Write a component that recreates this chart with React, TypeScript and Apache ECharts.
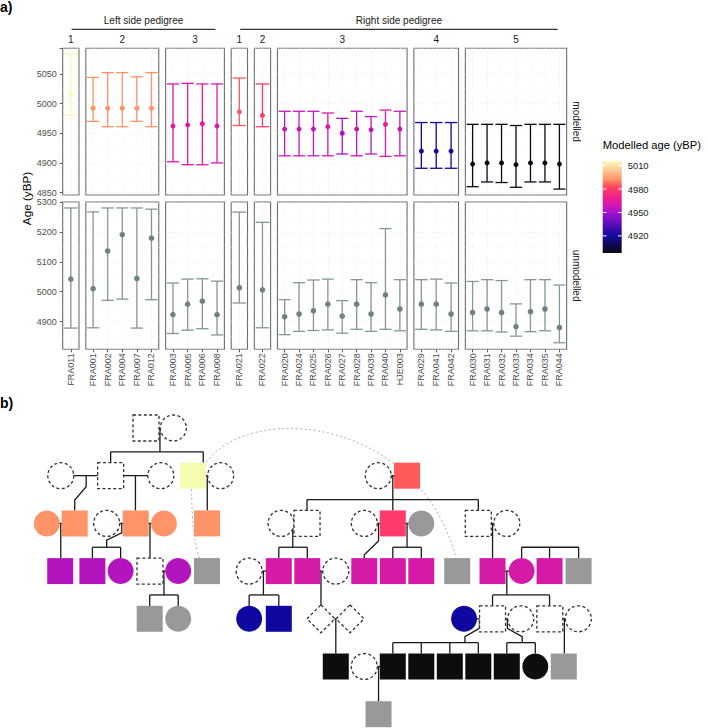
import React, { useEffect, useRef } from "react";
import * as echarts from "echarts";

// ---------------- data ----------------
const groupTitles = ["Left side pedigree", "Right side pedigree"];
const facetNames = ["1", "2", "3", "1", "2", "3", "4", "5"];
const facetGroup = [0, 0, 0, 1, 1, 1, 1, 1];
const facetSamples = [
  ["FRA011"],
  ["FRA001", "FRA002", "FRA004", "FRA007", "FRA012"],
  ["FRA003", "FRA005", "FRA006", "FRA008"],
  ["FRA021"],
  ["FRA022"],
  ["FRA020", "FRA024", "FRA025", "FRA026", "FRA027", "FRA028", "FRA039", "FRA040", "HJE003"],
  ["FRA029", "FRA041", "FRA042"],
  ["FRA030", "FRA031", "FRA032", "FRA033", "FRA034", "FRA035", "FRA044"],
];
const rowNames = ["modelled", "unmodelled"];

// values follow the sample order above
const modelledLow = [4980, 4970, 4961, 4961, 4970, 4961, 4902, 4897, 4897, 4900, 4963, 4961, 4912, 4912, 4912, 4912, 4915, 4912, 4915, 4911, 4912, 4891, 4891, 4891, 4860, 4868, 4867, 4859, 4868, 4868, 4856];
const modelledAge = [5015, 4992, 4992, 4992, 4992, 4992, 4962, 4964, 4966, 4962, 4986, 4980, 4957, 4957, 4957, 4961, 4950, 4957, 4956, 4965, 4957, 4920, 4920, 4920, 4898, 4900, 4900, 4897, 4900, 4900, 4898];
const modelledHigh = [5083, 5044, 5052, 5052, 5045, 5052, 5033, 5034, 5033, 5033, 5043, 5033, 4987, 4987, 4987, 4984, 4975, 4987, 4978, 4989, 4987, 4968, 4968, 4968, 4965, 4965, 4965, 4963, 4965, 4965, 4965];
const unmodelledLow = [4878, 4879, 4971, 4975, 4878, 4973, 4860, 4871, 4876, 4855, 4962, 4879, 4856, 4867, 4870, 4872, 4861, 4874, 4867, 4874, 4869, 4874, 4872, 4867, 4869, 4869, 4865, 4851, 4866, 4869, 4829];
const unmodelledAge = [5042, 5010, 5136, 5191, 5044, 5179, 4923, 4958, 4968, 4923, 5013, 5006, 4916, 4925, 4936, 4958, 4918, 4958, 4925, 4989, 4942, 4958, 4958, 4925, 4930, 4942, 4930, 4883, 4933, 4942, 4880];
const unmodelledHigh = [5280, 5267, 5280, 5280, 5280, 5276, 5029, 5042, 5043, 5035, 5266, 5232, 4973, 5030, 5039, 5042, 4970, 5040, 5030, 5211, 5040, 5040, 5042, 5029, 5034, 5040, 5037, 4959, 5040, 5040, 5022];

const legendTitle = "Modelled age (yBP)";
const legendTicks = [5010, 4980, 4950, 4920];

// pedigree: [column, generation, shape (0 square, 1 circle, 2 diamond), fill (-1 unsampled)]
const pedNodes = [
  [4.34, 1, 0, -1], [5.3, 1, 1, -1],
  [1.35, 2, 1, -1], [3.1, 2, 0, -1], [4.86, 2, 1, -1], [5.99, 2, 0, 0], [6.96, 2, 1, -1],
  [12.49, 2, 1, -1], [13.5, 2, 0, 2],
  [0.86, 3, 1, 1], [1.84, 3, 0, 1], [2.96, 3, 1, -1], [3.98, 3, 0, 1], [4.97, 3, 1, 1], [6.48, 3, 0, 1],
  [9.08, 3, 1, -1], [9.99, 3, 0, -1], [12, 3, 1, -1], [13, 3, 0, 3], [14, 3, 1, 8], [16, 3, 0, -1], [17, 3, 1, -1],
  [1.33, 4, 0, 4], [2.46, 4, 0, 4], [3.45, 4, 1, 4], [4.48, 4, 0, -1], [5.47, 4, 1, 4], [6.48, 4, 0, 8],
  [7.96, 4, 1, -1], [9, 4, 0, 5], [10, 4, 0, 5], [11, 4, 1, -1], [12, 4, 0, 5], [13, 4, 0, 5], [14, 4, 0, 5],
  [15.26, 4, 0, 8], [16.5, 4, 0, 5], [17.52, 4, 1, 5], [18.5, 4, 0, 5], [19.52, 4, 0, 8],
  [4.47, 5, 0, 8], [5.47, 5, 1, 8], [7.96, 5, 1, 6], [9, 5, 0, 6], [10.48, 5, 2, -1], [11.5, 5, 2, -1],
  [15.5, 5, 1, 6], [16.5, 5, 0, -1], [17.49, 5, 1, -1], [18.51, 5, 0, -1], [19.51, 5, 1, -1],
  [11, 6, 0, 7], [12, 6, 1, -1], [13, 6, 0, 7], [14, 6, 0, 7], [15, 6, 0, 7], [16, 6, 0, 7], [17, 6, 0, 7],
  [18, 6, 1, 7], [19, 6, 0, 8],
  [12.5, 7, 0, 8],
];

// pedigree connections, as polylines in [column, generation]
const pedLines = [
  [[4.34, 1], [5.3, 1]],
  [[1.35, 2], [3.1, 2]], [[3.1, 2], [4.86, 2]], [[5.99, 2], [6.96, 2]], [[12.49, 2], [13.5, 2]],
  [[0.86, 3], [1.84, 3]], [[2.96, 3], [3.98, 3]], [[3.98, 3], [4.97, 3]], [[9.08, 3], [9.99, 3]],
  [[12, 3], [13, 3]], [[13, 3], [14, 3]], [[16, 3], [17, 3]],
  [[4.48, 4], [5.47, 4]], [[7.96, 4], [9, 4]], [[10, 4], [11, 4]], [[16.5, 4], [17.52, 4]],
  [[10.48, 5], [11.5, 5]], [[15.5, 5], [16.5, 5]], [[16.5, 5], [17.49, 5]], [[18.51, 5], [19.51, 5]],
  [[12, 6], [13, 6]],
  [[4.83, 1], [4.83, 1.5]], [[3.1, 1.5], [6.35, 1.5]], [[3.1, 1.5], [3.1, 1.73]], [[6.35, 1.5], [6.35, 1.73]],
  [[2.24, 2], [2.24, 2.23], [1.84, 2.51], [1.84, 2.73]],
  [[3.97, 2], [3.97, 2.73]],
  [[6.49, 2], [6.49, 2.73]],
  [[1.35, 3], [1.35, 3.73]],
  [[3.49, 3], [3.49, 3.2], [2.96, 3.35], [2.96, 3.5]], [[2.46, 3.5], [3.45, 3.5]], [[2.46, 3.5], [2.46, 3.73]], [[3.45, 3.5], [3.45, 3.73]],
  [[4.48, 3], [4.48, 3.73]],
  [[4.97, 4], [4.97, 4.5]], [[4.47, 4.5], [5.47, 4.5]], [[4.47, 4.5], [4.47, 4.73]], [[5.47, 4.5], [5.47, 4.73]],
  [[13, 2], [13, 2.73]], [[9.99, 2.5], [16, 2.5]], [[9.99, 2.5], [9.99, 2.73]], [[16, 2.5], [16, 2.73]],
  [[9.49, 3], [9.49, 3.5]], [[9, 3.5], [10, 3.5]], [[9, 3.5], [9, 3.73]], [[10, 3.5], [10, 3.73]],
  [[12.5, 3], [12.5, 3.37], [12, 3.66], [12, 3.73]],
  [[13.5, 3], [13.5, 3.5]], [[13, 3.5], [14, 3.5]], [[13, 3.5], [13, 3.73]], [[14, 3.5], [14, 3.73]],
  [[16.5, 3], [16.5, 3.73]],
  [[17.52, 3.5], [19.52, 3.5]], [[17.52, 3.5], [17.52, 3.73]], [[18.5, 3.5], [18.5, 3.73]], [[19.52, 3.5], [19.52, 3.73]],
  [[8.46, 4], [8.46, 4.5]], [[7.96, 4.5], [9, 4.5]], [[7.96, 4.5], [7.96, 4.73]], [[9, 4.5], [9, 4.73]],
  [[10.48, 4], [10.48, 4.71]],
  [[11, 5], [11, 5.73]],
  [[17, 4], [17, 4.5]], [[16.5, 4.5], [18.5, 4.5]], [[16.5, 4.5], [16.5, 4.73]], [[18.5, 4.5], [18.5, 4.73]],
  [[16.04, 5], [16.04, 5.2], [15.53, 5.375], [15.53, 5.5]], [[13, 5.5], [16, 5.5]],
  [[13, 5.5], [13, 5.73]], [[14, 5.5], [14, 5.73]], [[15, 5.5], [15, 5.73]], [[16, 5.5], [16, 5.73]],
  [[17.02, 5], [17.02, 5.2], [17.54, 5.375], [17.54, 5.5]], [[17, 5.5], [18, 5.5]], [[17, 5.5], [17, 5.73]], [[18, 5.5], [18, 5.73]],
  [[19.02, 5], [19.02, 5.73]],
  [[12.5, 6], [12.5, 6.73]],
];

// dotted kinship links (cubic curves: start, control 1, control 2, end)
const pedCurves = [
  [[6.45, 1.71], [8.16, 0.41], [13.95, 0.83], [15.22, 3.73]],
  [[5.94, 2.28], [5.95, 2.93], [6.02, 3.35], [6.21, 3.73]],
];

// ---------------- styles / layout ----------------
const FONT = "'Liberation Sans', Arial, sans-serif";
const GRAD_VALS = [4898, 4920, 4950, 4960, 4966, 4980, 4986, 4992, 5016];
const GRAD_COLS = ["#0a0a0e", "#12089e", "#a412d2", "#d418b0", "#e81a98", "#ff3a66", "#ff5c5c", "#fe9266", "#fbfcbe"];
const PED_FILLS = ["#f5fcb2", "#fe9468", "#ff5a5a", "#ff3b6c", "#b414be", "#d61aa8", "#0e08a0", "#0d0d10", "#999999"];
const UNMOD_LINE = "#84979a";
const UNMOD_POINT = "#6f8284";
const BORDER = "#6e6e6e";

const PANEL_LEFT = 62.7;
const UNIT = 14.17;
const PAD = 2.1;
const GAP = 6.84;
const ROW_TOP = [48.3, 202];
const ROW_H = [146.7, 147.3];
const Y_RANGE = [[4846, 5093], [4807, 5300]];
const Y_STEP = [50, 100];

const PED_LEFT = 22.3;
const PED_COL = 28.5;
const PED_TOP = 428;
const PED_GEN = 47.7;

function hexToRgb(h: string) {
  const n = parseInt(h.slice(1), 16);
  return [(n >> 16) & 255, (n >> 8) & 255, n & 255];
}
function ageColor(v: number) {
  if (v <= GRAD_VALS[0]) return GRAD_COLS[0];
  for (let i = 1; i < GRAD_VALS.length; i++) {
    if (v <= GRAD_VALS[i]) {
      const t = (v - GRAD_VALS[i - 1]) / (GRAD_VALS[i] - GRAD_VALS[i - 1]);
      const a = hexToRgb(GRAD_COLS[i - 1]);
      const b = hexToRgb(GRAD_COLS[i]);
      return `rgb(${a.map((c, k) => Math.round(c + (b[k] - c) * t)).join(",")})`;
    }
  }
  return GRAD_COLS[GRAD_COLS.length - 1];
}

function buildOption() {
  const lefts: number[] = [];
  const widths: number[] = [];
  let x = PANEL_LEFT;
  facetSamples.forEach((s) => {
    const w = UNIT * s.length + PAD;
    lefts.push(x);
    widths.push(w);
    x += w + GAP;
  });

  const gridLine = { color: "#e6e6e6", width: 0.7, type: [1, 2] as any };
  const minorLine = { color: "#f0f0f0", width: 0.6, type: [1, 2] as any };

  const grids: any[] = [];
  const xAxes: any[] = [];
  const yAxes: any[] = [];
  const series: any[] = [];

  const lows = [modelledLow, unmodelledLow];
  const mids = [modelledAge, unmodelledAge];
  const highs = [modelledHigh, unmodelledHigh];

  let offset = 0;
  facetSamples.forEach((samples, f) => {
    for (let r = 0; r < 2; r++) {
      const gi = grids.length;
      grids.push({
        left: lefts[f], top: ROW_TOP[r], width: widths[f], height: ROW_H[r],
        show: true, borderColor: BORDER, borderWidth: 1.1, backgroundColor: "transparent",
      });
      xAxes.push({
        type: "category", gridIndex: gi, data: samples, boundaryGap: true,
        axisLine: { show: false },
        axisTick: { show: r === 1, length: 3, alignWithLabel: true, lineStyle: { color: "#333", width: 0.8 } },
        axisLabel: { show: r === 1, rotate: 90, interval: 0, fontSize: 9, color: "#4d4d4d", margin: 4, fontFamily: FONT },
        splitLine: { show: true, alignWithLabel: true, lineStyle: gridLine },
      });
      const step = Y_STEP[r];
      yAxes.push({
        type: "value", gridIndex: gi, min: Y_RANGE[r][0], max: Y_RANGE[r][1], splitNumber: 5,
        axisLine: { show: false },
        axisTick: { show: f === 0, length: 3, lineStyle: { color: "#333", width: 0.8 } },
        axisLabel: {
          show: f === 0, fontSize: 9, color: "#4d4d4d", margin: 6, fontFamily: FONT,
          showMinLabel: false,
          formatter: (v: number) => (Math.abs(v % step) < 1e-6 ? String(v) : ""),
        },
        splitLine: { show: true, lineStyle: gridLine },
        minorTick: { show: false, splitNumber: 2 },
        minorSplitLine: { show: true, lineStyle: minorLine },
      });
      const modelled = r === 0;
      const lo = lows[r], md = mids[r], hi = highs[r];
      series.push({
        type: "custom", xAxisIndex: gi, yAxisIndex: gi, silent: true, z: 5,
        data: samples.map((_, i) => [i, lo[offset + i], md[offset + i], hi[offset + i]]),
        encode: { x: 0, y: [1, 2, 3] },
        renderItem: (params: any, api: any) => {
          const i = api.value(0);
          const pLo = api.coord([i, api.value(1)]);
          const pMd = api.coord([i, api.value(2)]);
          const pHi = api.coord([i, api.value(3)]);
          const half = api.size([1, 0])[0] * 0.42;
          const color = modelled ? ageColor(api.value(2)) : UNMOD_LINE;
          const pt = modelled ? color : UNMOD_POINT;
          const ls = { stroke: color, lineWidth: 1.3 };
          return {
            type: "group",
            children: [
              { type: "line", shape: { x1: pLo[0], y1: pLo[1], x2: pHi[0], y2: pHi[1] }, style: ls },
              { type: "line", shape: { x1: pLo[0] - half, y1: pLo[1], x2: pLo[0] + half, y2: pLo[1] }, style: ls },
              { type: "line", shape: { x1: pHi[0] - half, y1: pHi[1], x2: pHi[0] + half, y2: pHi[1] }, style: ls },
              { type: "circle", shape: { cx: pMd[0], cy: pMd[1], r: modelled ? 2.5 : 2.8 }, style: { fill: pt } },
            ],
          };
        },
      });
    }
    offset += samples.length;
  });

  // pedigree coordinate system
  const pg = grids.length;
  grids.push({ left: PED_LEFT, top: PED_TOP, width: PED_COL * 20, height: PED_GEN * 6, show: false });
  xAxes.push({ type: "value", gridIndex: pg, min: 0, max: 20, show: false });
  yAxes.push({ type: "value", gridIndex: pg, min: 1, max: 7, inverse: true, show: false });

  series.push({
    type: "custom", xAxisIndex: pg, yAxisIndex: pg, silent: true, z: 2,
    data: pedCurves.map(() => [1, 2]),
    encode: { x: 0, y: 1 },
    renderItem: (params: any, api: any) => {
      const c = pedCurves[params.dataIndex].map((p) => api.coord(p));
      return {
        type: "bezierCurve",
        shape: { x1: c[0][0], y1: c[0][1], cpx1: c[1][0], cpy1: c[1][1], cpx2: c[2][0], cpy2: c[2][1], x2: c[3][0], y2: c[3][1] },
        style: { stroke: "#b0b0b0", lineWidth: 1, lineDash: [2, 2.5], fill: null },
      };
    },
  });
  series.push({
    type: "custom", xAxisIndex: pg, yAxisIndex: pg, silent: true, z: 3,
    data: pedLines.map(() => [1, 2]),
    encode: { x: 0, y: 1 },
    renderItem: (params: any, api: any) => {
      const pts = pedLines[params.dataIndex].map((p) => api.coord(p));
      return { type: "polyline", shape: { points: pts }, style: { stroke: "#1a1a1a", lineWidth: 1.3, fill: null } };
    },
  });
  series.push({
    type: "custom", xAxisIndex: pg, yAxisIndex: pg, silent: true, z: 4,
    data: pedNodes,
    encode: { x: 0, y: 1 },
    renderItem: (params: any, api: any) => {
      const p = api.coord([api.value(0), api.value(1)]);
      const shape = api.value(2);
      const fill = api.value(3);
      const s = 13;
      const style = fill < 0
        ? { fill: "#ffffff", stroke: "#333333", lineWidth: 1.3, lineDash: [3, 2.4] }
        : { fill: PED_FILLS[fill], stroke: null };
      if (shape === 0) return { type: "rect", shape: { x: p[0] - s, y: p[1] - s, width: 2 * s, height: 2 * s }, style };
      if (shape === 1) return { type: "circle", shape: { cx: p[0], cy: p[1], r: s }, style };
      const d = 14;
      return { type: "polygon", shape: { points: [[p[0], p[1] - d], [p[0] + d, p[1]], [p[0], p[1] + d], [p[0] - d, p[1]]] }, style };
    },
  });

  // graphic texts and legend
  const graphic: any[] = [];
  const txt = (text: string, gx: number, gy: number, size: number, extra: any = {}, style: any = {}) => ({
    type: "text", x: gx, y: gy, silent: true, ...extra,
    style: { text, fontSize: size, fontFamily: FONT, fill: "#1a1a1a", align: "center", verticalAlign: "middle", ...style },
  });
  graphic.push(txt("a)", 0, 7, 14, {}, { align: "left", fontWeight: "bold", fill: "#000" }));
  graphic.push(txt("b)", 0, 403, 14, {}, { align: "left", fontWeight: "bold", fill: "#000" }));

  [0, 1].forEach((g) => {
    const idx = facetGroup.map((v, i) => (v === g ? i : -1)).filter((i) => i >= 0);
    const gl = lefts[idx[0]];
    const gr = lefts[idx[idx.length - 1]] + widths[idx[idx.length - 1]];
    graphic.push(txt(groupTitles[g], (gl + gr) / 2, 20, 10));
    graphic.push({ type: "line", silent: true, shape: { x1: gl + 9, y1: 29.3, x2: gr - 9, y2: 29.3 }, style: { stroke: "#000", lineWidth: 1 } });
  });
  facetNames.forEach((n, f) => graphic.push(txt(n, lefts[f] + widths[f] / 2, 39, 10)));
  const stripX = lefts[lefts.length - 1] + widths[widths.length - 1] + 10;
  rowNames.forEach((n, r) => graphic.push(txt(n, stripX, ROW_TOP[r] + ROW_H[r] / 2, 10, { rotation: -Math.PI / 2 })));
  graphic.push(txt("Age (yBP)", 26, 198.5, 11.7, { rotation: Math.PI / 2 }, { fill: "#000" }));

  const barX = 602.7, barY = 161, barW = 19, barH = 92;
  const gMax = GRAD_VALS[GRAD_VALS.length - 1], gMin = GRAD_VALS[0];
  const stops = GRAD_VALS.map((v, i) => ({ offset: (gMax - v) / (gMax - gMin), color: GRAD_COLS[i] })).reverse();
  graphic.push(txt(legendTitle, barX, 145, 11.2, {}, { align: "left", fill: "#000" }));
  graphic.push({
    type: "rect", silent: true, shape: { x: barX, y: barY, width: barW, height: barH },
    style: { fill: new echarts.graphic.LinearGradient(0, 0, 0, 1, stops) },
  });
  legendTicks.forEach((v) => {
    const ty = barY + ((gMax - v) / (gMax - gMin)) * barH;
    graphic.push({ type: "line", silent: true, shape: { x1: barX, y1: ty, x2: barX + 3.8, y2: ty }, style: { stroke: "#fff", lineWidth: 1 } });
    graphic.push({ type: "line", silent: true, shape: { x1: barX + barW - 3.8, y1: ty, x2: barX + barW, y2: ty }, style: { stroke: "#fff", lineWidth: 1 } });
    graphic.push(txt(String(v), barX + barW + 6, ty, 9.4, {}, { align: "left" }));
  });

  return { animation: false, backgroundColor: "#ffffff", grid: grids, xAxis: xAxes, yAxis: yAxes, series, graphic };
}

export default function App() {
  const ref = useRef<HTMLDivElement>(null);
  useEffect(() => {
    if (!ref.current) return;
    const chart = echarts.init(ref.current, null, { renderer: "svg" });
    chart.setOption(buildOption() as any);
    return () => chart.dispose();
  }, []);
  return <div ref={ref} style={{ position: "fixed", left: 0, top: 0, width: 708, height: 728, background: "#fff" }} />;
}
